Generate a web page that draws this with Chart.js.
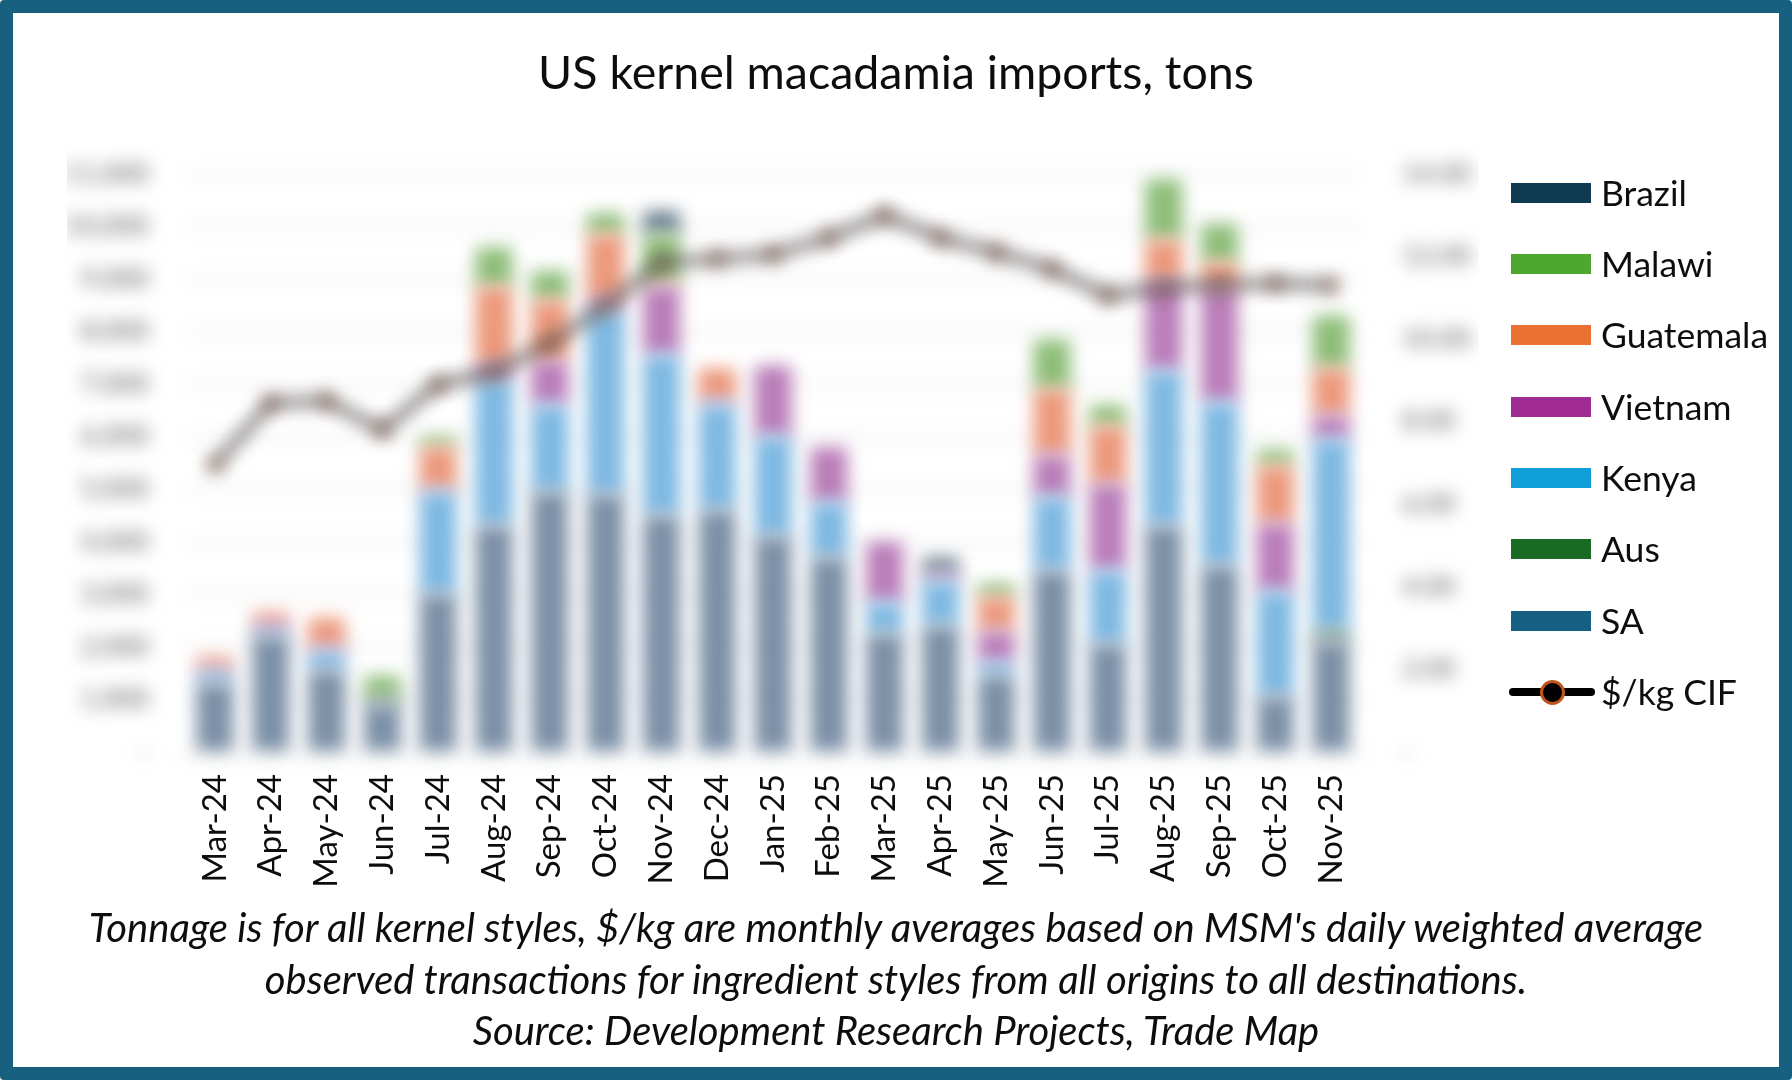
<!DOCTYPE html>
<html>
<head>
<meta charset="utf-8">
<script src="https://cdn.jsdelivr.net/npm/chart.js@4.4.1/dist/chart.umd.min.js"></script>
<style>
  html, body { margin: 0; padding: 0; background: #fff; }
  body { width: 1792px; height: 1080px; position: relative; overflow: hidden; font-family: Lato, "Noto Sans", sans-serif; }
  #frame { position: absolute; left: 0; top: 0; width: 1792px; height: 1080px; box-sizing: border-box; border: 13px solid #17607f; border-radius: 4px; pointer-events: none; }
  #chart { position: absolute; left: 0; top: 0; }
  #title { position: absolute; left: 0; width: 1792px; top: 43px; text-align: center; font-size: 46.5px; color: #0d0d0d; }
  #legend { position: absolute; left: 1509px; top: 0; }
  .item { position: absolute; left: 0; height: 40px; width: 270px; }
  .sw { position: absolute; left: 2px; top: 10px; width: 80px; height: 20px; }
  .lbl { position: absolute; left: 92px; top: 0; line-height: 40px; font-size: 35.5px; color: #0d0d0d; white-space: nowrap; }
  .ln { position: absolute; left: 0; top: 16px; width: 86px; height: 8px; border-radius: 4px; background: #000; }
  .dot { position: absolute; left: 31px; top: 8px; width: 19px; height: 19px; border-radius: 50%; background: #000; border: 3px solid #c0561b; }
  #foot { position: absolute; left: 0; width: 1792px; top: 902px; text-align: center; font-style: italic; font-size: 40px; line-height: 51.5px; color: #0d0d0d; white-space: nowrap; }
</style>
</head>
<body>
<canvas id="chart" width="1792" height="1080"></canvas>
<div id="title">US kernel macadamia imports, tons</div>
<div id="legend"></div>
<div id="foot">Tonnage is for all kernel styles, $/kg are monthly averages based on MSM's daily weighted average<br>observed transactions for ingredient styles from all origins to all destinations.<br>Source: Development Research Projects, Trade Map</div>
<div id="frame"></div>
<script>
var months = ["Mar-24", "Apr-24", "May-24", "Jun-24", "Jul-24", "Aug-24", "Sep-24", "Oct-24", "Nov-24", "Dec-24", "Jan-25",
  "Feb-25", "Mar-25", "Apr-25", "May-25", "Jun-25", "Jul-25", "Aug-25", "Sep-25", "Oct-25", "Nov-25"]

// tons, bottom of the stack first
var sa =        [1300, 2200, 1550, 900, 3000, 4300, 4950, 4900, 4500, 4600, 4100, 3700, 2250, 2400, 1450, 3450, 2050, 4300, 3550, 1050, 2100]
var aus =       [0, 0, 0, 150, 0, 0, 0, 0, 0, 0, 0, 0, 0, 0, 0, 0, 0, 0, 0, 0, 200]
var kenya =     [200, 100, 350, 0, 1950, 2800, 1650, 3500, 3050, 2000, 1900, 1050, 600, 850, 250, 1400, 1400, 2950, 3100, 2000, 3650]
var vietnam =   [100, 150, 100, 0, 50, 250, 850, 200, 1300, 100, 1350, 1050, 1150, 150, 600, 800, 1650, 1700, 2200, 1300, 450]
var guatemala = [200, 200, 550, 0, 800, 1500, 1150, 1250, 100, 600, 0, 0, 0, 0, 650, 1250, 1100, 800, 450, 1100, 900]
var malawi =    [0, 0, 0, 400, 200, 750, 550, 400, 900, 0, 0, 0, 0, 0, 250, 950, 400, 1150, 750, 300, 1000]
var brazil =    [0, 0, 0, 0, 0, 0, 0, 0, 450, 0, 0, 0, 0, 300, 0, 0, 0, 0, 0, 0, 0]

// $/kg CIF
var price = [6.95, 8.45, 8.5, 7.8, 8.9, 9.2, 9.9, 10.8, 11.85, 11.95, 12.05, 12.45, 13.0, 12.45, 12.1, 11.7, 11.05, 11.25, 11.3, 11.35, 11.3]

var leftTicks = { min: 0, max: 11000, step: 1000 }
var rightTicks = { min: 0, max: 14, step: 2 }

// legend colours, and the washed-out tones the bars show in the picture
var series = [
  { name: "Brazil", data: brazil, color: "#0e3a50", bar: "#6d8291" },
  { name: "Malawi", data: malawi, color: "#4ea72e", bar: "#8dbd78" },
  { name: "Guatemala", data: guatemala, color: "#e97132", bar: "#ec987b" },
  { name: "Vietnam", data: vietnam, color: "#a02b93", bar: "#b97cb8" },
  { name: "Kenya", data: kenya, color: "#0f9ed5", bar: "#7db8e2" },
  { name: "Aus", data: aus, color: "#196b24", bar: "#6e9078" },
  { name: "SA", data: sa, color: "#156082", bar: "#7b8fa6" },
]

// html legend
var legend = document.getElementById("legend")
var rowY = [193, 264, 335, 407, 478, 549, 621, 692]
series.forEach(function (s, i) {
  var el = document.createElement("div")
  el.className = "item"
  el.style.top = rowY[i] - 20 + "px"
  el.innerHTML = '<div class="sw" style="background:' + s.color + '"></div><div class="lbl">' + s.name + "</div>"
  legend.appendChild(el)
})
var lineItem = document.createElement("div")
lineItem.className = "item"
lineItem.style.top = rowY[7] - 20 + "px"
lineItem.innerHTML = '<div class="ln"></div><div class="dot"></div><div class="lbl">$/kg CIF</div>'
legend.appendChild(lineItem)

var datasets = series.slice().reverse().map(function (s) {
  return {
    type: "bar",
    label: s.name,
    data: s.data,
    backgroundColor: s.bar,
    borderWidth: 0,
    categoryPercentage: 1,
    barPercentage: 0.66,
    stack: "tons",
    yAxisID: "y",
    order: 1,
    clip: false,
  }
})
datasets.push({
  type: "line",
  label: "$/kg CIF",
  data: price,
  yAxisID: "y1",
  borderColor: "#5a5353",
  borderWidth: 8,
  pointRadius: 6,
  pointBackgroundColor: "#5a5353",
  pointBorderColor: "#b87a5a",
  pointBorderWidth: 2,
  order: 0,
  clip: false,
})

// plot region is soft-focus in the original, axis labels below stay sharp
var softFocus = {
  id: "softFocus",
  beforeDraw: function (chart) {
    chart.ctx.filter = "blur(8.5px)"
  },
  afterDatasetsDraw: function (chart) {
    chart.ctx.filter = "none"
  },
}

Chart.defaults.font.family = "Lato, 'Noto Sans', sans-serif"

var ctx = document.getElementById("chart").getContext("2d")
var myChart = new Chart(ctx, {
  data: { labels: months, datasets: datasets },
  plugins: [softFocus],
  options: {
    responsive: false,
    animation: false,
    layout: { padding: { left: 67, right: 313, top: 174, bottom: 128 } },
    plugins: { legend: { display: false }, title: { display: false }, tooltip: { enabled: false } },
    scales: {
      x: {
        stacked: true,
        offset: true,
        grid: { display: true, drawOnChartArea: false, drawTicks: true, tickLength: 8, color: "#bfbfbf", z: -1 },
        border: { display: true, color: "#d9d9d9" },
        ticks: { autoSkip: false, maxRotation: 90, minRotation: 90, padding: 14, color: "#0d0d0d", font: { size: 33 }, z: 1 },
        afterFit: function (scale) { scale.height = 200 },
      },
      y: {
        position: "left",
        stacked: true,
        min: leftTicks.min,
        max: leftTicks.max,
        grid: { color: "#d9d9d9", lineWidth: 2, drawTicks: false },
        border: { display: false },
        ticks: {
          stepSize: leftTicks.step,
          padding: 38,
          color: "#595959",
          font: { size: 27 },
          callback: function (v) { return v === 0 ? "-" : v.toLocaleString("en-US") },
        },
        afterFit: function (scale) { scale.width = 120 },
      },
      y1: {
        position: "right",
        min: rightTicks.min,
        max: rightTicks.max,
        grid: { display: false, drawTicks: false },
        border: { display: false },
        ticks: {
          stepSize: rightTicks.step,
          padding: 43,
          color: "#595959",
          font: { size: 27 },
          callback: function (v) { return v === 0 ? "-" : v.toFixed(2) },
        },
        afterFit: function (scale) { scale.width = 120 },
      },
    },
  },
})
</script>
</body>
</html>
